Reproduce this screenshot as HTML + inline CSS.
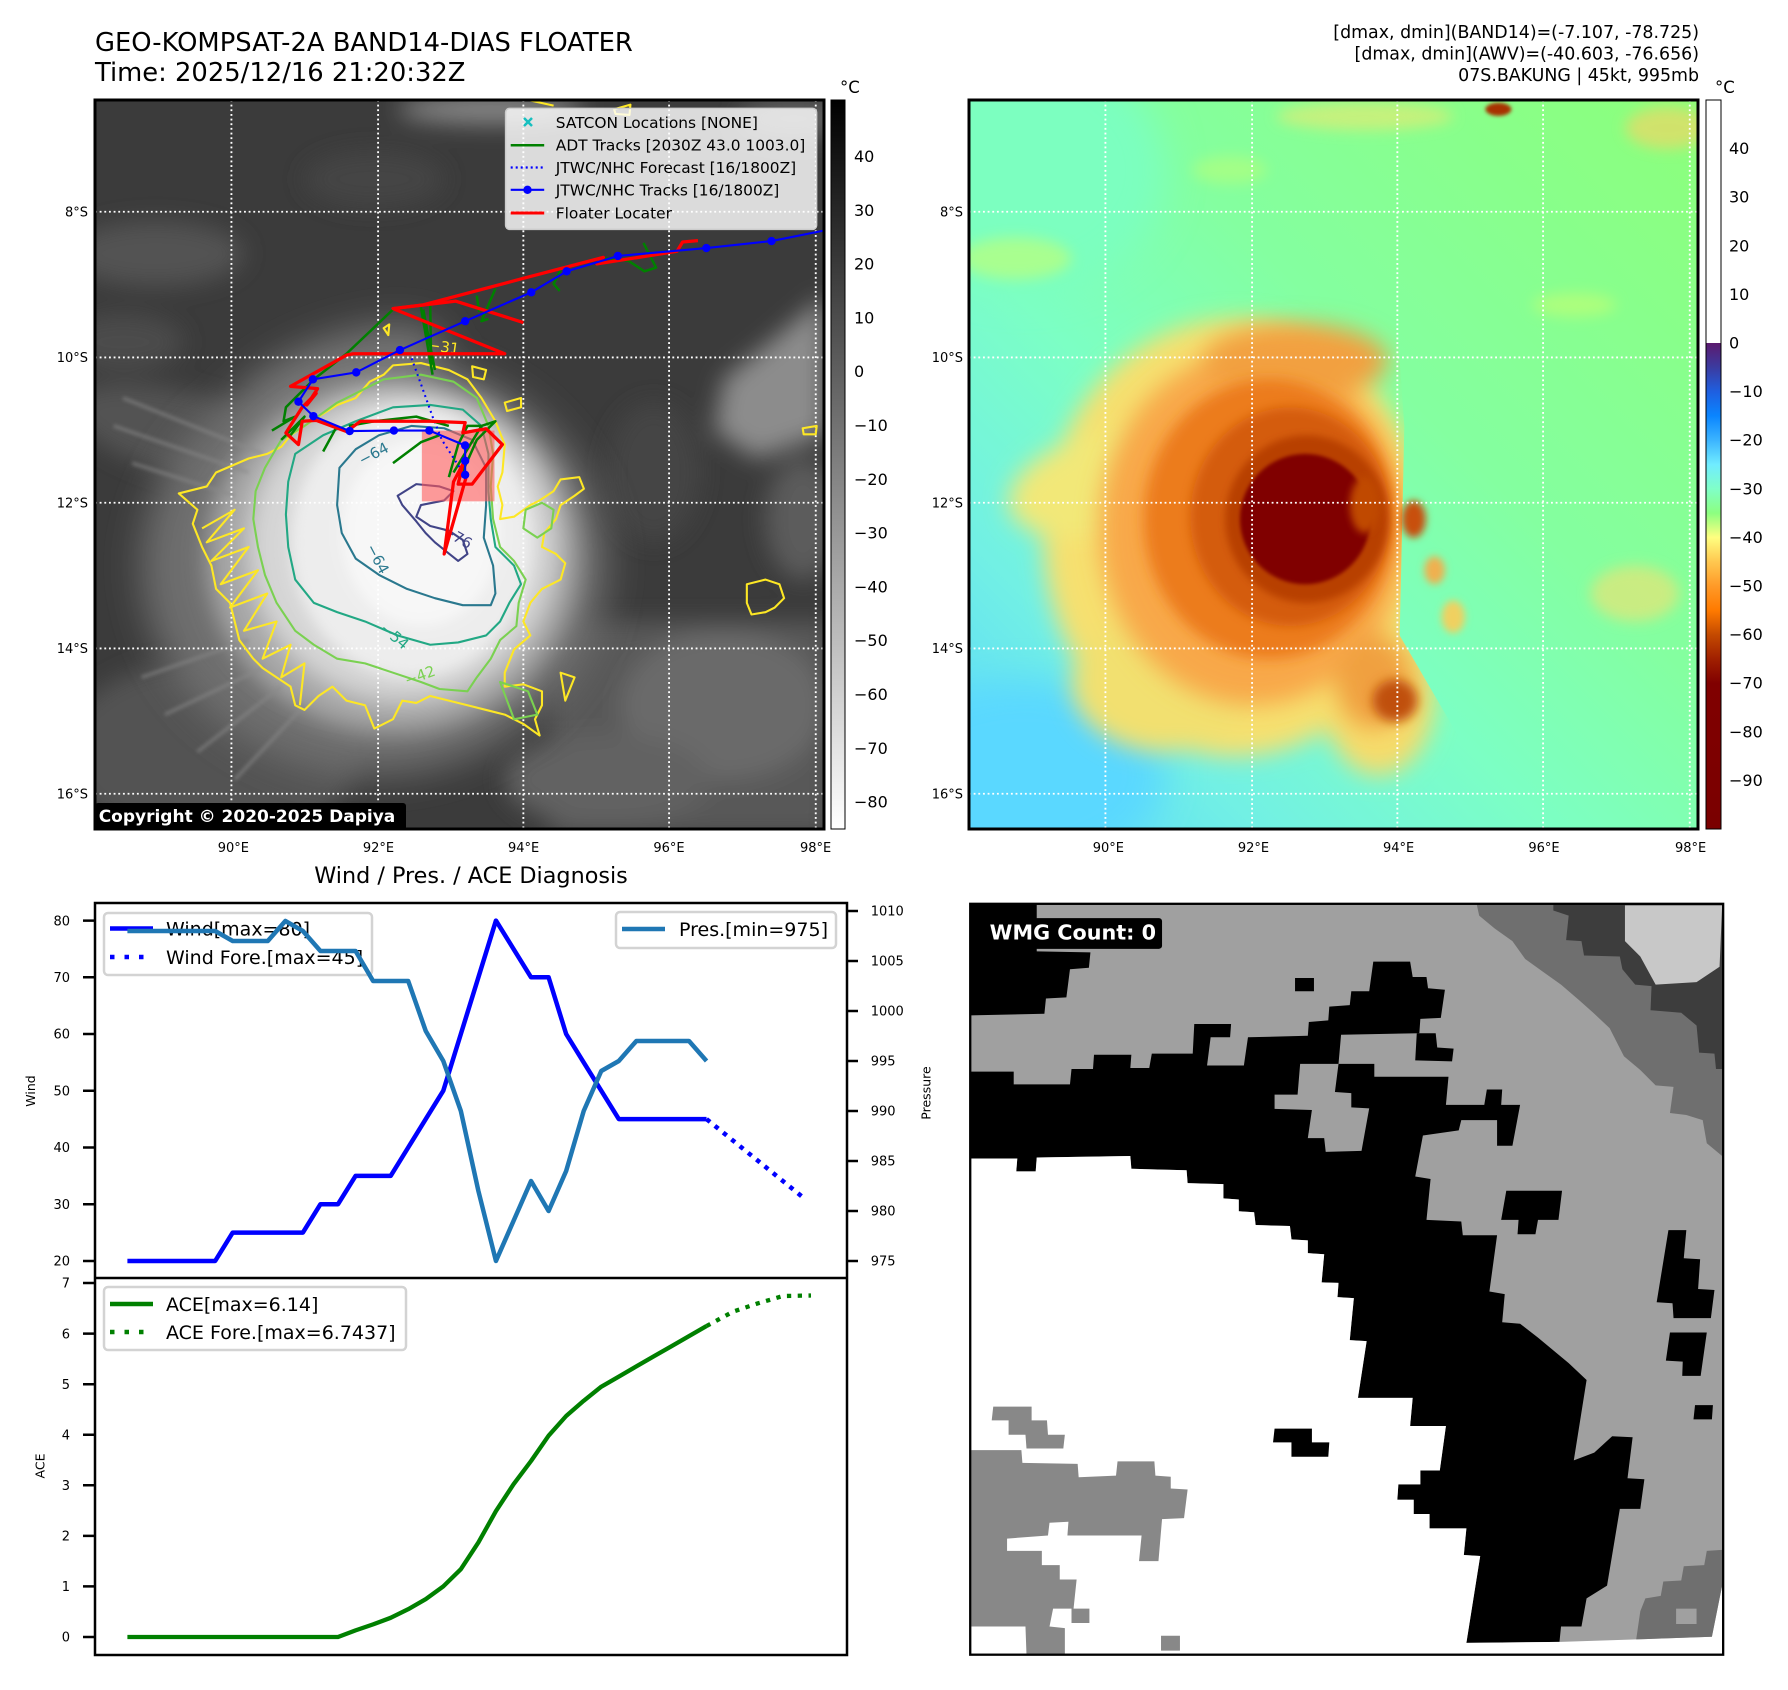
<!DOCTYPE html>
<html><head><meta charset="utf-8">
<style>
html,body{margin:0;padding:0;background:#fff;}
svg{display:block;font-family:"DejaVu Sans","Liberation Sans",sans-serif;}
</style></head>
<body>
<svg width="1788" height="1690" viewBox="0 0 1788 1690" xmlns="http://www.w3.org/2000/svg">
<defs>
<clipPath id="cL"><rect x="95" y="100" width="729" height="729"/></clipPath>
<clipPath id="cR"><rect x="969" y="100" width="729" height="729"/></clipPath>
<clipPath id="cW"><rect x="95" y="903" width="752" height="375"/></clipPath>
<clipPath id="cA"><rect x="95" y="1278" width="752" height="377"/></clipPath>
<clipPath id="cStorm" clipPathUnits="userSpaceOnUse"><path d="M0,0 L890,0 L925,560 L935,700 L925,1150 L1100,1450 L1100,1568 L0,1568 Z"/></clipPath>
<filter id="b4" x="-50%" y="-50%" width="200%" height="200%"><feGaussianBlur stdDeviation="4"/></filter>
<filter id="b8" x="-50%" y="-50%" width="200%" height="200%"><feGaussianBlur stdDeviation="8"/></filter>
<filter id="b12" x="-50%" y="-50%" width="200%" height="200%"><feGaussianBlur stdDeviation="12"/></filter>
<filter id="b15" x="-50%" y="-50%" width="200%" height="200%"><feGaussianBlur stdDeviation="15"/></filter>
<filter id="b25" x="-50%" y="-50%" width="200%" height="200%"><feGaussianBlur stdDeviation="25"/></filter>
<filter id="b40" x="-50%" y="-50%" width="200%" height="200%"><feGaussianBlur stdDeviation="40"/></filter>
<linearGradient id="gGray" x1="0" y1="0" x2="0" y2="1">
<stop offset="0" stop-color="#000"/><stop offset="1" stop-color="#fff"/>
</linearGradient>
<linearGradient id="gJet" x1="0" y1="0" x2="0" y2="1">
<stop offset="0" stop-color="#fff"/>
<stop offset="0.3333" stop-color="#fff"/>
<stop offset="0.3334" stop-color="#5c1a6e"/>
<stop offset="0.3667" stop-color="#3b3ba0"/>
<stop offset="0.4" stop-color="#1f5fe0"/>
<stop offset="0.4333" stop-color="#0a85ff"/>
<stop offset="0.4667" stop-color="#3cb4ff"/>
<stop offset="0.5" stop-color="#70ecff"/>
<stop offset="0.5333" stop-color="#80ffc8"/>
<stop offset="0.5667" stop-color="#8cff80"/>
<stop offset="0.6" stop-color="#ffff80"/>
<stop offset="0.6333" stop-color="#ffc850"/>
<stop offset="0.6667" stop-color="#ff9a28"/>
<stop offset="0.7" stop-color="#ff7a00"/>
<stop offset="0.7333" stop-color="#c44a00"/>
<stop offset="0.7667" stop-color="#a02000"/>
<stop offset="0.8" stop-color="#800000"/>
<stop offset="1" stop-color="#7a0000"/>
</linearGradient>
<linearGradient id="gR" gradientUnits="userSpaceOnUse" x1="1568" y1="0" x2="0" y2="1568">
<stop offset="0" stop-color="#8cff7a"/>
<stop offset="0.4" stop-color="#84ffa0"/>
<stop offset="0.6" stop-color="#7cffc4"/>
<stop offset="0.8" stop-color="#72f0e4"/>
<stop offset="1" stop-color="#58d6ff"/>
</linearGradient>
</defs>

<!-- ===== TITLES ===== -->
<text x="95" y="51" font-size="25.8">GEO-KOMPSAT-2A BAND14-DIAS FLOATER</text>
<text x="95" y="81" font-size="25.8">Time: 2025/12/16 21:20:32Z</text>
<g font-size="17.4" text-anchor="end">
<text x="1699" y="38">[dmax, dmin](BAND14)=(-7.107, -78.725)</text>
<text x="1699" y="59.5">[dmax, dmin](AWV)=(-40.603, -76.656)</text>
<text x="1699" y="81">07S.BAKUNG | 45kt, 995mb</text>
</g>

<!-- ===== LEFT MAP ===== -->
<g clip-path="url(#cL)">
<g transform="translate(95,100) scale(0.4656)">
<rect width="1568" height="1568" fill="#3b3b3b"/>
<g filter="url(#b25)">
<ellipse cx="130" cy="330" rx="190" ry="70" fill="#525252"/>
<ellipse cx="60" cy="520" rx="130" ry="60" fill="#4c4c4c"/>
<ellipse cx="600" cy="170" rx="150" ry="60" fill="#454545"/>
<ellipse cx="850" cy="20" rx="200" ry="30" fill="#8a8a8a"/>
<ellipse cx="1500" cy="40" rx="120" ry="40" fill="#606060"/>
<path d="M1568 420 L1568 720 L1420 770 L1330 710 L1350 600 L1450 520 Z" fill="#8c8c8c"/>
<ellipse cx="1520" cy="900" rx="80" ry="130" fill="#5c5c5c"/>
<rect x="980" y="1120" width="600" height="460" fill="#585858"/>
<ellipse cx="1350" cy="1300" rx="220" ry="160" fill="#6a6a6a"/>
<ellipse cx="1100" cy="1460" rx="220" ry="100" fill="#626262"/>
<ellipse cx="250" cy="1400" rx="320" ry="200" fill="#525252"/>
<ellipse cx="200" cy="720" rx="260" ry="90" fill="#525252" transform="rotate(15 200 720)"/>
<ellipse cx="1200" cy="800" rx="100" ry="150" fill="#444"/>
</g>
<g filter="url(#b40)">
<ellipse cx="600" cy="1000" rx="500" ry="450" fill="#6e6e6e"/>
<ellipse cx="520" cy="600" rx="240" ry="90" fill="#747474" transform="rotate(-20 520 600)"/>
</g>
<g filter="url(#b25)">
<ellipse cx="640" cy="980" rx="400" ry="380" fill="#a6a6a6"/>
<ellipse cx="660" cy="960" rx="330" ry="330" fill="#d6d6d6"/>
</g>
<g filter="url(#b15)">
<ellipse cx="680" cy="950" rx="260" ry="290" fill="#ededed"/>
<ellipse cx="700" cy="930" rx="170" ry="200" fill="#f7f7f7"/>
</g>
<g stroke="#8a8a8a" stroke-width="8" fill="none" opacity="0.55" filter="url(#b4)">
<path d="M60 640 L360 760 M40 700 L330 800 M80 780 L300 850 M100 1240 L330 1160 M150 1320 L360 1220 M220 1400 L400 1260 M300 1460 L450 1300"/>
</g>
<g stroke="#fff" stroke-width="4" stroke-dasharray="4 6" fill="none">
<path d="M293 0 V1568 M608 0 V1568 M920 0 V1568 M1233 0 V1568 M1548 0 V1568"/>
<path d="M0 240 H1568 M0 553 H1568 M0 865 H1568 M0 1178 H1568 M0 1490 H1568"/>
</g>
<g fill="none" stroke-width="4.5" stroke-linejoin="round">
<path stroke="#fde725" d="M180,845 L240,830 L260,800 L330,770 L370,760 L400,745 L420,720 L450,700 L480,680 L520,655 L560,640 L590,605 L620,590 L640,570 L700,565 L760,580 L800,600 L830,640 L860,690 L880,740 L875,800 L865,830 L875,870 L870,900 L900,895 L935,870 L955,860 L985,840 L1000,815 L1040,810 L1050,835 L1030,850 L1000,870 L990,900 L965,930 L960,960 L990,975 L1010,995 L1000,1030 L960,1050 L935,1080 L920,1120 L935,1150 L900,1180 L880,1230 L880,1260 L920,1255 L960,1270 L960,1300 L945,1330 L955,1365 L920,1340 L880,1320 L840,1310 L800,1300 L760,1290 L720,1280 L690,1295 L660,1290 L640,1330 L600,1350 L580,1300 L540,1290 L510,1260 L480,1280 L450,1310 L430,1300 L420,1260 L390,1240 L360,1220 L340,1200 L310,1160 L300,1120 L290,1080 L260,1050 L250,1000 L230,960 L210,910 L220,880 Z"/>
<path stroke="#fde725" d="M230,920 L300,880 L240,950 L320,920 L250,990 L330,960 L270,1040 L350,1010 L290,1090 L370,1060 L320,1140 L390,1120 L360,1200 L420,1170 L400,1240 L450,1210 L440,1300"/>
<path stroke="#fde725" d="M1400,1040 L1440,1030 L1470,1040 L1480,1070 L1460,1090 L1440,1100 L1410,1105 L1400,1080 Z M880,650 L915,640 L915,660 L885,668 Z M810,572 L840,580 L835,600 L812,595 Z M1520,705 L1550,700 L1548,718 L1522,718 Z M620,490 L632,482 L630,505 Z M930,0 L985,12 M1115,20 L1150,10 L1148,32 L1118,30 Z M1000,1230 L1030,1240 L1010,1290 Z"/>
<path stroke="#7ad151" d="M400,730 L450,700 L520,650 L580,620 L620,600 L700,590 L770,605 L820,640 L845,700 L855,760 L850,830 L855,900 L870,960 L900,990 L925,1030 L910,1080 L905,1130 L870,1160 L850,1200 L820,1240 L800,1270 L740,1265 L700,1250 L640,1230 L580,1210 L520,1200 L470,1170 L430,1140 L390,1080 L365,1020 L350,960 L340,900 L345,840 L365,790 Z"/>
<path stroke="#7ad151" d="M925,880 L960,865 L985,880 L980,920 L950,940 L920,920 Z M870,1250 L930,1270 L950,1320 L900,1330 Z"/>
<path stroke="#22a884" d="M430,760 L490,720 L560,690 L640,660 L720,655 L790,665 L830,700 L845,760 L845,840 L850,900 L860,960 L900,1000 L915,1040 L890,1080 L870,1120 L840,1150 L780,1165 L720,1170 L650,1150 L580,1120 L520,1100 L470,1080 L430,1030 L415,960 L410,890 L415,820 Z"/>
<path stroke="#2a788e" d="M525,790 L560,750 L610,720 L680,700 L750,705 L810,730 L840,790 L840,870 L835,940 L855,1000 L860,1060 L850,1085 L790,1085 L730,1070 L670,1050 L610,1020 L560,985 L530,930 L520,870 Z"/>
<path stroke="#414487" d="M650,850 L690,825 L740,830 L770,840 L750,860 L700,870 L690,895 L720,915 L760,925 L790,945 L800,975 L780,990 L755,970 L730,950 L710,930 L690,905 L660,870 Z"/>
</g>
<g font-size="32">
<text x="715" y="540" fill="#fde725" transform="rotate(8 740 530)">−31</text>
<text x="565" y="770" fill="#2a788e" transform="rotate(-28 600 760)">−64</text>
<text x="555" y="975" fill="#2a788e" transform="rotate(62 580 990)">−64</text>
<text x="610" y="1160" fill="#22a884" transform="rotate(40 640 1150)">−54</text>
<text x="665" y="1250" fill="#7ad151" transform="rotate(-20 690 1240)">−42</text>
<text x="745" y="945" fill="#414487" transform="rotate(30 770 935)">−76</text>
</g>
<rect x="702" y="710" width="156" height="152" fill="#ff5a5a" opacity="0.6"/>
<g fill="none" stroke="#008000" stroke-width="5.4" stroke-linejoin="round">
<path d="M1178,307 L1205,360 L1180,368 L1145,345 L1090,340"/>
<path d="M1000,365 L985,395 L998,410 M860,405 L830,475 L845,470 M820,420 L825,455"/>
<path d="M705,440 L640,450 L540,545 L470,600 L410,660 L405,690 L430,680 L380,710"/>
<path d="M700,445 L725,590 M720,440 L722,570 M705,450 L730,580"/>
<path d="M545,700 L600,690 L690,680 L760,700"/>
<path d="M640,780 L700,735 L740,720 M760,810 L780,740 L800,700 L830,700 L860,690 L820,730 L780,820 M830,700 L770,800"/>
<path d="M490,755 L520,700 M400,730 L450,680 L420,720"/>
</g>
<path d="M680,555 L700,610 L725,680 L745,730 L790,800" fill="none" stroke="#0000ff" stroke-width="4.5" stroke-dasharray="4 8"/>
<g fill="none" stroke="#ff0000" stroke-width="7" stroke-linejoin="round">
<path d="M1295,302 L1262,305 L1250,325 L1078,352 L1092,338 L920,383 L705,440 L640,448 L880,545 L555,545 L540,548 L420,615 L478,620 L455,655 L475,630 L445,660 L410,715 L437,740 L445,690 L475,688 L540,712 L570,690 L720,690 L795,693 L790,715 L840,706 L875,740 L810,825 L780,825 L790,782 L770,820 L750,975 L800,800"/>
<path d="M640,448 L775,432 L920,478"/>
</g>
<g fill="#0000ff">
<path d="M1568,280 L1453,303 L1313,318 L1123,335 L1013,368 L937,413 L795,475 L655,537 L561,585 L468,600 L437,648 L469,679 L547,711 L642,710 L718,710 L795,742 L795,775 L795,805" fill="none" stroke="#0000ff" stroke-width="4.5"/>
<circle cx="1453" cy="303" r="9"/><circle cx="1313" cy="318" r="9"/><circle cx="1123" cy="335" r="9"/><circle cx="1013" cy="368" r="9"/><circle cx="937" cy="413" r="9"/><circle cx="795" cy="475" r="9"/><circle cx="655" cy="537" r="9"/><circle cx="561" cy="585" r="9"/><circle cx="468" cy="600" r="9"/><circle cx="437" cy="648" r="9"/><circle cx="469" cy="679" r="9"/><circle cx="547" cy="711" r="9"/><circle cx="642" cy="710" r="9"/><circle cx="718" cy="710" r="9"/><circle cx="795" cy="742" r="9"/><circle cx="795" cy="775" r="9"/><circle cx="795" cy="805" r="9"/>
</g>
</g>
</g>
<rect x="95" y="100" width="729" height="729" fill="none" stroke="#000" stroke-width="3"/>

<rect x="505.6" y="108.4" width="311" height="121" rx="4" fill="#ffffff" fill-opacity="0.82" stroke="#cccccc" stroke-width="1.5"/>
<g font-size="15.4">
<text x="555.8" y="127.8">SATCON Locations [NONE]</text>
<text x="555.8" y="150.7">ADT Tracks [2030Z 43.0 1003.0]</text>
<text x="555.8" y="173">JTWC/NHC Forecast [16/1800Z]</text>
<text x="555.8" y="195.3">JTWC/NHC Tracks [16/1800Z]</text>
<text x="555.8" y="218.5">Floater Locater</text>
</g>
<path d="M524,118 L532,126 M532,118 L524,126" stroke="#17bfbf" stroke-width="2.5"/>
<path d="M510.7,145.2 H544.2" stroke="#008000" stroke-width="2.5"/>
<path d="M510.7,167.5 H544.2" stroke="#0000ff" stroke-width="2.2" stroke-dasharray="2 3"/>
<path d="M510.7,189.8 H544.2" stroke="#0000ff" stroke-width="2.2"/><circle cx="527.5" cy="189.8" r="4.2" fill="#0000ff"/>
<path d="M510.7,213 H544.2" stroke="#ff0000" stroke-width="3"/>

<rect x="95" y="803" width="311" height="27" rx="3" fill="#000"/>
<text x="98.7" y="822" font-size="17" font-weight="bold" fill="#fff">Copyright © 2020-2025 Dapiya</text>

<rect x="831" y="100" width="14" height="729" fill="url(#gGray)" stroke="#000" stroke-width="1"/>
<text x="840" y="93" font-size="16.5">°C</text>
<g font-size="16">
<text x="854" y="162">40</text><text x="854" y="215.8">30</text><text x="854" y="269.6">20</text><text x="854" y="323.4">10</text><text x="854" y="377.2">0</text><text x="854" y="431">−10</text><text x="854" y="484.8">−20</text><text x="854" y="538.6">−30</text><text x="854" y="592.4">−40</text><text x="854" y="646.2">−50</text><text x="854" y="700">−60</text><text x="854" y="753.8">−70</text><text x="854" y="807.6">−80</text>
</g>

<g font-size="13" text-anchor="end">
<text x="88" y="216.5">8°S</text><text x="88" y="362">10°S</text><text x="88" y="507.5">12°S</text><text x="88" y="653">14°S</text><text x="88" y="798.5">16°S</text>
<text x="963" y="216.5">8°S</text><text x="963" y="362">10°S</text><text x="963" y="507.5">12°S</text><text x="963" y="653">14°S</text><text x="963" y="798.5">16°S</text>
</g>
<g font-size="13" text-anchor="middle">
<text x="233.4" y="852">90°E</text><text x="378.5" y="852">92°E</text><text x="523.6" y="852">94°E</text><text x="669" y="852">96°E</text><text x="815.6" y="852">98°E</text>
<text x="1108.4" y="852">90°E</text><text x="1253.5" y="852">92°E</text><text x="1398.6" y="852">94°E</text><text x="1544" y="852">96°E</text><text x="1690.6" y="852">98°E</text>
</g>

<!-- ===== RIGHT MAP ===== -->
<g clip-path="url(#cR)">
<g transform="translate(969,100) scale(0.4656)">
<rect width="1568" height="1568" fill="url(#gR)"/>
<g filter="url(#b40)">
<ellipse cx="120" cy="150" rx="300" ry="260" fill="#7cffc0"/>
<ellipse cx="120" cy="1450" rx="300" ry="200" fill="#5ad8ff"/>
</g>
<g filter="url(#b15)" opacity="0.6">
<ellipse cx="100" cy="340" rx="120" ry="45" fill="#c8ff70"/>
<ellipse cx="850" cy="35" rx="190" ry="30" fill="#f0e870"/>
<ellipse cx="1500" cy="60" rx="90" ry="45" fill="#ffd060"/>
<ellipse cx="1430" cy="1060" rx="95" ry="60" fill="#f8e070"/>
<ellipse cx="1300" cy="440" rx="90" ry="25" fill="#c8ff70"/>
<ellipse cx="560" cy="150" rx="80" ry="30" fill="#b8ff78"/>
</g>
<ellipse cx="1137" cy="20" rx="28" ry="14" fill="#a83000" filter="url(#b4)"/>
<!-- storm -->
<g clip-path="url(#cStorm)">
<g filter="url(#b25)">
<ellipse cx="570" cy="940" rx="410" ry="470" fill="#f6e070"/>
<ellipse cx="300" cy="820" rx="220" ry="110" fill="#f2e878" transform="rotate(-15 300 820)"/>
<ellipse cx="880" cy="1280" rx="120" ry="170" fill="#f6dc6c"/>
<ellipse cx="420" cy="1250" rx="200" ry="150" fill="#f2e070"/>
</g>
<g filter="url(#b25)">
<ellipse cx="610" cy="920" rx="330" ry="380" fill="#f8a848"/>
<ellipse cx="700" cy="560" rx="200" ry="80" fill="#f2a040"/>
<ellipse cx="870" cy="1250" rx="80" ry="100" fill="#f0a040"/>
</g>
<g filter="url(#b15)">
<ellipse cx="645" cy="900" rx="270" ry="300" fill="#ec7c1c"/>
</g>
<g filter="url(#b12)">
<ellipse cx="690" cy="895" rx="215" ry="235" fill="#d45c08"/>
<ellipse cx="915" cy="1290" rx="48" ry="45" fill="#c05010"/>
</g>
<ellipse cx="725" cy="900" rx="175" ry="180" fill="#b84000" filter="url(#b8)"/>
<circle cx="722" cy="900" r="140" fill="#800000" filter="url(#b4)"/>
<ellipse cx="850" cy="870" rx="32" ry="60" fill="#c04800" filter="url(#b8)"/>
</g>
<g filter="url(#b8)">
<ellipse cx="955" cy="900" rx="26" ry="40" fill="#c85010"/>
<ellipse cx="1000" cy="1010" rx="22" ry="30" fill="#f0b050"/>
<ellipse cx="1040" cy="1110" rx="25" ry="35" fill="#f0d060"/>
</g>
<g stroke="#fff" stroke-width="4" stroke-dasharray="4 6" fill="none">
<path d="M293 0 V1568 M608 0 V1568 M920 0 V1568 M1233 0 V1568 M1548 0 V1568"/>
<path d="M0 240 H1568 M0 553 H1568 M0 865 H1568 M0 1178 H1568 M0 1490 H1568"/>
</g>
</g>
</g>
<rect x="969" y="100" width="729" height="729" fill="none" stroke="#000" stroke-width="3"/>

<rect x="1706" y="100" width="15" height="729" fill="url(#gJet)" stroke="#000" stroke-width="1"/>
<text x="1715" y="93" font-size="16.5">°C</text>
<g font-size="16">
<text x="1729" y="154.1">40</text><text x="1729" y="202.7">30</text><text x="1729" y="251.3">20</text><text x="1729" y="299.9">10</text><text x="1729" y="348.5">0</text><text x="1729" y="397.1">−10</text><text x="1729" y="445.7">−20</text><text x="1729" y="494.3">−30</text><text x="1729" y="542.9">−40</text><text x="1729" y="591.5">−50</text><text x="1729" y="640.1">−60</text><text x="1729" y="688.7">−70</text><text x="1729" y="737.3">−80</text><text x="1729" y="785.9">−90</text>
</g>

<!-- ===== BOTTOM LEFT CHART ===== -->
<text x="471" y="883" font-size="22.3" text-anchor="middle">Wind / Pres. / ACE Diagnosis</text>
<g stroke="#000" stroke-width="2.5">
<path d="M83 920.6 H95 M83 977.3 H95 M83 1034 H95 M83 1090.7 H95 M83 1147.5 H95 M83 1204.2 H95 M83 1261 H95"/>
<path d="M847 911 H858 M847 961 H858 M847 1011 H858 M847 1061 H858 M847 1111 H858 M847 1161 H858 M847 1211 H858 M847 1261 H858"/>
<path d="M83 1283 H95 M83 1333.6 H95 M83 1384.2 H95 M83 1434.7 H95 M83 1485.3 H95 M83 1535.9 H95 M83 1586.4 H95 M83 1637 H95"/>
</g>
<g font-size="13" text-anchor="end">
<text x="70" y="925.3">80</text><text x="70" y="982">70</text><text x="70" y="1038.7">60</text><text x="70" y="1095.4">50</text><text x="70" y="1152.2">40</text><text x="70" y="1208.9">30</text><text x="70" y="1265.7">20</text>
<text x="70" y="1287.7">7</text><text x="70" y="1338.3">6</text><text x="70" y="1388.9">5</text><text x="70" y="1439.4">4</text><text x="70" y="1490">3</text><text x="70" y="1540.6">2</text><text x="70" y="1591.1">1</text><text x="70" y="1641.7">0</text>
</g>
<g font-size="13">
<text x="870.7" y="915.7">1010</text><text x="870.7" y="965.7">1005</text><text x="870.7" y="1015.7">1000</text><text x="870.7" y="1065.7">995</text><text x="870.7" y="1115.7">990</text><text x="870.7" y="1165.7">985</text><text x="870.7" y="1215.7">980</text><text x="870.7" y="1265.7">975</text>
</g>
<text transform="translate(35,1091) rotate(-90)" font-size="12.5" text-anchor="middle">Wind</text>
<text transform="translate(44.5,1466) rotate(-90)" font-size="12.5" text-anchor="middle">ACE</text>
<text transform="translate(930.5,1093) rotate(-90)" font-size="12.5" text-anchor="middle">Pressure</text>

<g clip-path="url(#cW)">
<polyline fill="none" stroke="#0000ff" stroke-width="4.5" stroke-linejoin="round" points="127.4,1261 215.15,1261 232.7,1232.6 302.9,1232.6 320.45,1204.2 338,1204.2 355.55,1175.9 390.65,1175.9 408.2,1147.5 425.75,1119.1 443.3,1090.7 460.85,1034 478.4,977.3 495.95,920.6 513.5,948.9 531.05,977.3 548.6,977.3 566.15,1034 583.7,1062.4 601.25,1090.7 618.8,1119.1 706.55,1119.1"/>
<path d="M706.55,1119.1 L805,1199" fill="none" stroke="#0000ff" stroke-width="4.5" stroke-dasharray="4.5 6.2"/>
<rect x="104" y="913" width="268" height="62" rx="4" fill="#fff" fill-opacity="0.8" stroke="#d3d3d3" stroke-width="2.5"/>
<path d="M110 928.5 H153" stroke="#0000ff" stroke-width="4.5"/>
<path d="M110 957 H153" stroke="#0000ff" stroke-width="4.5" stroke-dasharray="4.5 10"/>
<g font-size="19"><text x="166" y="935.3">Wind[max=80]</text><text x="166" y="963.8">Wind Fore.[max=45]</text></g>
<polyline fill="none" stroke="#1f77b4" stroke-width="4.5" stroke-linejoin="round" points="127.4,931 215.15,931 232.7,941 267.8,941 285.35,921 302.9,931 320.45,951 355.55,951 373.1,981 408.2,981 425.75,1031 443.3,1061 460.85,1111 478.4,1191 495.95,1261 513.5,1221 531.05,1181 548.6,1211 566.15,1171 583.7,1111 601.25,1071 618.8,1061 636.35,1041 689,1041 706.55,1061"/>
<rect x="616" y="912" width="220" height="36" rx="4" fill="#fff" fill-opacity="0.8" stroke="#d3d3d3" stroke-width="2.5"/>
<path d="M622 929 H665" stroke="#1f77b4" stroke-width="4.5"/>
<text x="679" y="935.8" font-size="19">Pres.[min=975]</text>
</g>

<g clip-path="url(#cA)">
<polyline fill="none" stroke="#008000" stroke-width="4.3" stroke-linejoin="round" points="127.4,1637 338,1637 355.55,1630.4 373.1,1624.4 390.65,1617.8 408.2,1609.2 425.75,1599.1 443.3,1586.4 460.85,1569.2 478.4,1542.4 495.95,1511.1 513.5,1484.3 531.05,1461 548.6,1435.7 566.15,1416 583.7,1400.8 601.25,1386.7 618.8,1376.6 636.35,1366.4 653.9,1356.3 671.45,1346.2 689,1336.1 706.55,1326"/>
<path d="M706.55,1326 L733,1311.7 L758,1303.3 L783,1296 L811,1295.5" fill="none" stroke="#008000" stroke-width="4.3" stroke-dasharray="4.3 6.5"/>
<rect x="104" y="1287" width="302" height="63" rx="4" fill="#fff" fill-opacity="0.8" stroke="#d3d3d3" stroke-width="2.5"/>
<path d="M110 1304 H153" stroke="#008000" stroke-width="4.5"/>
<path d="M110 1332 H153" stroke="#008000" stroke-width="4.5" stroke-dasharray="4.5 10"/>
<g font-size="19"><text x="166" y="1310.8">ACE[max=6.14]</text><text x="166" y="1338.8">ACE Fore.[max=6.7437]</text></g>
</g>
<rect x="95" y="903" width="752" height="752" fill="none" stroke="#000" stroke-width="2.5"/>
<path d="M95 1278 H847" stroke="#000" stroke-width="2.5"/>

<!-- ===== BOTTOM RIGHT ===== -->
<g transform="translate(960,890) scale(0.5115)">
<rect x="20" y="27" width="1472" height="1468" fill="#a0a0a0"/>
<path fill="#6f6f6f" d="M1010,27 L1490,27 L1490,520 L1460,495 L1452,450 L1420,440 L1388,436 L1395,385 L1360,382 L1330,352 L1298,325 L1270,270 L1238,240 L1210,215 L1175,185 L1140,160 L1105,135 L1080,100 L1045,75 L1015,50 Z"/>
<path fill="#3d3d3d" d="M1160,27 L1490,27 L1490,350 L1478,350 L1475,320 L1445,318 L1440,265 L1410,240 L1350,235 L1352,188 L1320,185 L1295,155 L1290,130 L1220,128 L1215,100 L1185,98 L1190,50 L1160,40 Z"/>
<path fill="#c8c8c8" d="M1300,30 L1490,30 L1485,150 L1440,180 L1360,185 L1330,130 L1300,100 Z"/>
<path fill="#000" d="M20,27 L150,27 L150,120 L255,122 L252,152 L215,155 L208,210 L168,212 L165,242 L20,245 Z"/>
<path fill="#000" d="M20,355 L105,355 L105,380 L215,380 L218,350 L260,350 L262,322 L335,322 L333,348 L370,348 L375,320 L455,320 L458,262 L530,262 L528,288 L490,288 L483,343 L555,343 L563,288 L680,285 L682,258 L720,255 L722,228 L762,225 L765,198 L800,198 L808,140 L880,140 L885,170 L912,170 L915,192 L948,195 L940,250 L900,252 L898,280 L745,283 L740,340 L665,340 L660,400 L615,400 L615,428 L688,430 L680,485 L712,485 L715,512 L785,510 L800,427 L765,425 L765,397 L733,395 L740,340 L810,340 L810,365 L955,365 L950,420 L1025,420 L1030,390 L1060,390 L1058,420 L1095,420 L1080,500 L1050,500 L1050,450 L980,450 L975,470 L905,480 L890,560 L920,565 L912,645 L980,648 L983,675 L1050,675 L1035,785 L1065,790 L1060,845 L1095,848 L1130,875 L1160,900 L1190,925 L1225,958 L1200,1115 L1240,1100 L1275,1068 L1315,1070 L1305,1150 L1338,1152 L1330,1210 L1290,1210 L1265,1360 L1225,1385 L1215,1440 L1175,1440 L1172,1470 L990,1472 L1017,1302 L985,1300 L990,1248 L918,1248 L918,1220 L887,1220 L887,1192 L855,1192 L857,1162 L900,1162 L900,1135 L938,1135 L950,1048 L880,1048 L885,993 L778,993 L795,882 L762,880 L770,798 L738,796 L740,768 L707,767 L712,712 L680,710 L680,685 L648,683 L645,657 L578,655 L575,630 L545,628 L545,605 L515,603 L515,575 L445,573 L443,548 L335,545 L333,520 L150,523 L148,550 L110,550 L112,525 L20,525 Z"/>
<path fill="#000" d="M893,280 L930,280 L933,308 L965,310 L962,335 L890,333 Z M655,172 L692,172 L692,198 L655,198 Z M1068,588 L1177,588 L1170,645 L1130,645 L1125,673 L1090,673 L1092,645 L1058,645 Z M1385,665 L1420,665 L1415,720 L1447,722 L1443,780 L1475,782 L1468,837 L1395,837 L1393,808 L1362,806 Z M1388,865 L1460,865 L1448,950 L1412,950 L1413,922 L1380,920 Z M1437,1007 L1472,1007 L1470,1035 L1434,1035 Z"/>
<path fill="#fff" d="M20,525 L112,525 L110,550 L148,550 L150,523 L333,520 L335,545 L443,548 L445,573 L515,575 L515,603 L545,605 L545,628 L575,630 L578,655 L645,657 L648,683 L680,685 L680,710 L712,712 L707,767 L740,768 L738,796 L770,798 L762,880 L795,882 L778,993 L885,993 L880,1048 L950,1048 L938,1135 L900,1135 L900,1162 L857,1162 L855,1192 L887,1192 L887,1220 L918,1220 L918,1248 L990,1248 L985,1300 L1017,1302 L990,1472 L1175,1470 L1470,1460 L1490,1360 L1490,1495 L20,1495 Z"/>
<path fill="#6f6f6f" d="M1490,1290 L1460,1292 L1455,1320 L1415,1322 L1410,1350 L1375,1352 L1370,1380 L1340,1385 L1330,1410 L1322,1465 L1470,1460 L1490,1360 Z"/>
<rect x="1400" y="1405" width="40" height="30" fill="#a0a0a0"/>
<path fill="#000" d="M615,1053 L688,1053 L688,1080 L722,1080 L720,1108 L648,1108 L648,1080 L612,1080 Z"/>
<path fill="#888" d="M22,1095 L120,1095 L122,1120 L230,1122 L232,1148 L305,1145 L308,1117 L380,1117 L382,1145 L412,1147 L412,1170 L445,1172 L438,1228 L395,1230 L388,1312 L350,1312 L355,1262 L210,1262 L212,1235 L175,1237 L172,1262 L92,1268 L92,1292 L160,1292 L160,1320 L195,1320 L195,1348 L228,1348 L222,1405 L182,1405 L175,1440 L205,1443 L205,1495 L130,1495 L128,1440 L22,1440 Z M65,1010 L140,1010 L140,1037 L170,1037 L172,1065 L205,1065 L202,1092 L130,1092 L128,1065 L95,1065 L95,1037 L62,1037 Z M218,1405 L253,1405 L253,1433 L218,1433 Z M393,1458 L430,1458 L430,1487 L393,1487 Z"/>
<rect x="20" y="27" width="1472" height="1468" fill="none" stroke="#000" stroke-width="4.5"/>
<rect x="30" y="55" width="365" height="60" rx="6" fill="#000"/>
<text x="58" y="97" font-size="40.5" font-weight="bold" fill="#fff">WMG Count: 0</text>
</g>
</svg>
</body></html>
